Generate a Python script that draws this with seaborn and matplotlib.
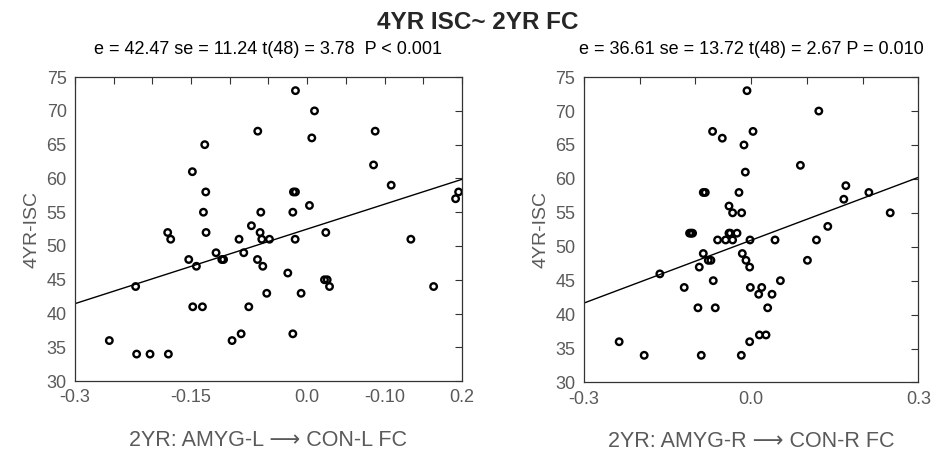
import numpy as np
import matplotlib
matplotlib.use("Agg")
import matplotlib.pyplot as plt
import seaborn as sns

# left panel: 2YR AMYG-L -> CON-L FC vs 4YR ISC
fc_left = [-0.2556, -0.2216, -0.2203, -0.2030, -0.1793, -0.1802, -0.1763, -0.1530,
           -0.1483, -0.1478, -0.1431, -0.1353, -0.1340, -0.1323, -0.1310, -0.1306,
           -0.1177, -0.1103, -0.1080, -0.0970, -0.0880, -0.0853, -0.0819, -0.0754,
           -0.0720, -0.0642, -0.0638, -0.0608, -0.0599, -0.0586, -0.0573, -0.0522,
           -0.0487, -0.0250, -0.0185, -0.0185, -0.0177, -0.0151, -0.0155, -0.0151,
           -0.0078, 0.0030, 0.0060, 0.0095, 0.0241, 0.0224, 0.0259, 0.0289,
           0.0858, 0.0879, 0.1086, 0.1340, 0.1634, 0.1918, 0.1957]
isc_left = [36, 44, 34, 34, 34, 52, 51, 48,
            61, 41, 47, 41, 55, 65, 58, 52,
            49, 48, 48, 36, 51, 37, 49, 41,
            53, 48, 67, 52, 55, 51, 47, 43,
            51, 46, 37, 55, 58, 58, 51, 73,
            43, 56, 66, 70, 52, 45, 45, 44,
            62, 67, 59, 51, 44, 57, 58]

# right panel: 2YR AMYG-R -> CON-R FC vs 4YR ISC
fc_right = [-0.2365, -0.1916, -0.1635, -0.1198, -0.1102, -0.1072, -0.1048, -0.0952,
            -0.0928, -0.0892, -0.0856, -0.0856, -0.0820, -0.0766, -0.0719, -0.0689,
            -0.0677, -0.0641, -0.0599, -0.0515, -0.0455, -0.0395, -0.0395, -0.0371,
            -0.0330, -0.0330, -0.0251, -0.0216, -0.0174, -0.0168, -0.0156, -0.0126,
            -0.0102, -0.0090, -0.0072, -0.0024, -0.0024, -0.0018, -0.0012, 0.0036,
            0.0138, 0.0150, 0.0192, 0.0269, 0.0299, 0.0377, 0.0431, 0.0527,
            0.0886, 0.1012, 0.1174, 0.1216, 0.1377, 0.1665, 0.1701, 0.2114, 0.2497]
isc_right = [36, 34, 46, 44, 52, 52, 52, 41,
             47, 34, 49, 58, 58, 48, 48, 67,
             45, 41, 51, 66, 51, 56, 52, 52,
             55, 51, 52, 58, 34, 55, 49, 65,
             61, 48, 73, 47, 36, 51, 44, 67,
             43, 37, 44, 37, 41, 43, 51, 45,
             62, 48, 51, 70, 53, 57, 59, 58, 55]

stats_left = "e = 42.47 se = 11.24 t(48) = 3.78  P < 0.001"
stats_right = "e = 36.61 se = 13.72 t(48) = 2.67 P = 0.010"

left_ticks = [-0.3, -0.25, -0.2, -0.15, -0.1, -0.05, 0.0, 0.05, 0.1, 0.15, 0.2]
left_labels = ["-0.3", "", "", "-0.15", "", "", "0.0", "", "-0.10", "", "0.2"]
right_ticks = [-0.3, -0.2, -0.1, 0.0, 0.1, 0.2, 0.3]
right_labels = ["-0.3", "", "", "0.0", "", "", "0.3"]
y_ticks = [30, 35, 40, 45, 50, 55, 60, 65, 70, 75]

sns.set_style("white")
plt.rcParams["font.family"] = ["Liberation Sans", "DejaVu Sans"]
gray = "#5a5a5a"

fig = plt.figure(figsize=(9.37, 4.51), dpi=100)
ax1 = fig.add_axes([0.080, 0.155, 0.413, 0.674])
ax2 = fig.add_axes([0.623, 0.152, 0.357, 0.677])

panels = [
    (ax1, fc_left, isc_left, (-0.3, 0.2), left_ticks, left_labels, stats_left,
     "2YR: AMYG-L \u27f6 CON-L FC"),
    (ax2, fc_right, isc_right, (-0.3, 0.3), right_ticks, right_labels, stats_right,
     "2YR: AMYG-R \u27f6 CON-R FC"),
]

for ax, x, y, xlim, ticks, labels, stats, xlabel in panels:
    ax.set_xlim(*xlim)
    ax.set_ylim(30, 75)
    sns.regplot(x=x, y=y, ax=ax, ci=None, truncate=False,
                scatter_kws=dict(s=22, facecolors="none", edgecolors="black",
                                 linewidths=1.7, alpha=1),
                line_kws=dict(color="black", lw=1.0))
    ax.set_xlim(*xlim)
    ax.set_ylim(30, 75)
    ax.set_xticks(ticks)
    ax.set_xticklabels(labels, fontsize=12.5)
    ax.set_yticks(y_ticks)
    ax.tick_params(direction="in", length=5, width=0.8, top=True, right=True,
                   colors="#333333", labelcolor=gray, labelsize=13, pad=6)
    for sp in ax.spines.values():
        sp.set_visible(True)
        sp.set_color("#333333")
        sp.set_linewidth(0.9)
    ax.set_ylabel("4YR-ISC", fontsize=14, color=gray, labelpad=4)
    ax.set_xlabel(xlabel, fontsize=15.5, color=gray, labelpad=17)
    ax.set_title(stats, fontsize=13, color="black", pad=17)

fig.suptitle("4YR ISC~ 2YR FC", fontsize=17.5, fontweight="bold", x=0.51, y=0.975)

fig.savefig("out.png", dpi=100)
